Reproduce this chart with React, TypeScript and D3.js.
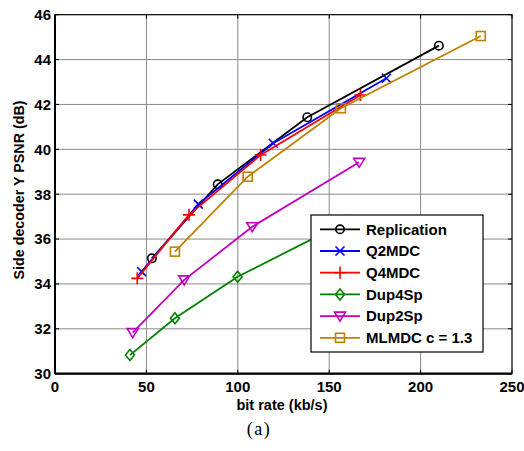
import React from "react";
import * as d3 from "d3";

const xTicks = [0, 50, 100, 150, 200, 250];
const yTicks = [30, 32, 34, 36, 38, 40, 42, 44, 46];

const replicationX = [53, 89, 138, 210];
const replicationY = [35.14, 38.44, 41.43, 44.62];
const q2mdcX = [47.4, 78.4, 119.4, 181.3];
const q2mdcY = [34.55, 37.56, 40.27, 43.17];
const q4mdcX = [45, 73.3, 112.5, 167.1];
const q4mdcY = [34.25, 37.08, 39.75, 42.42];
const dup4spX = [41, 65.6, 99.9, 160];
const dup4spY = [30.83, 32.47, 34.32, 36.8];
const dup2spX = [42.5, 70.7, 107.9, 166.4];
const dup2spY = [31.83, 34.18, 36.55, 39.42];
const mlmdcX = [65.6, 105.4, 156.4, 232.9];
const mlmdcY = [35.44, 38.78, 41.83, 45.05];

const seriesNames = ["Replication", "Q2MDC", "Q4MDC", "Dup4Sp", "Dup2Sp", "MLMDC c = 1.3"];
const seriesColors = ["#000000", "#0000ff", "#ff0000", "#008000", "#bf00bf", "#bf8000"];
const seriesMarkers = ["circle", "x", "plus", "diamond", "tridown", "square"];
const seriesX = [replicationX, q2mdcX, q4mdcX, dup4spX, dup2spX, mlmdcX];
const seriesY = [replicationY, q2mdcY, q4mdcY, dup4spY, dup2spY, mlmdcY];

const W = 524, H = 451;
const M = { left: 55, right: 512, top: 14.7, bottom: 373.7 };

function Marker({ type, x, y, color }: { type: string; x: number; y: number; color: string }) {
  const sw = 1.6;
  switch (type) {
    case "circle":
      return <circle cx={x} cy={y} r={4.2} fill="none" stroke={color} strokeWidth={sw} />;
    case "x":
      return <path d={`M${x - 4.5},${y - 4.5}L${x + 4.5},${y + 4.5}M${x - 4.5},${y + 4.5}L${x + 4.5},${y - 4.5}`} stroke={color} strokeWidth={sw} />;
    case "plus":
      return <path d={`M${x - 6},${y}L${x + 6},${y}M${x},${y - 6}L${x},${y + 6}`} stroke={color} strokeWidth={sw} />;
    case "diamond":
      return <path d={`M${x},${y - 5.5}L${x + 4.5},${y}L${x},${y + 5.5}L${x - 4.5},${y}Z`} fill="none" stroke={color} strokeWidth={sw} />;
    case "tridown":
      return <path d={`M${x - 5.5},${y - 4}L${x + 5.5},${y - 4}L${x},${y + 5}Z`} fill="none" stroke={color} strokeWidth={sw} />;
    case "square":
      return <rect x={x - 4.5} y={y - 4.5} width={9} height={9} fill="none" stroke={color} strokeWidth={sw} />;
  }
  return null;
}

export default function App() {
  const x = d3.scaleLinear().domain([0, 250]).range([M.left, M.right]);
  const y = d3.scaleLinear().domain([30, 46]).range([M.bottom, M.top]);
  const line = d3.line<[number, number]>().x((d) => x(d[0])).y((d) => y(d[1]));
  const font = "Arial, 'Liberation Sans', sans-serif";
  const legX = 311, legY = 215, legW = 172, legH = 137;
  const rowH = 21.7;

  return (
    <svg width={W} height={H} style={{ position: "absolute", left: 0, top: 0, background: "#fff" }}>
      <rect x={0} y={0} width={W} height={H} fill="#fff" />
      {/* grid */}
      {xTicks.slice(1, -1).map((t) => (
        <line key={"gx" + t} x1={x(t)} x2={x(t)} y1={M.top} y2={M.bottom} stroke="#8a8a8a" strokeWidth={1} />
      ))}
      {yTicks.slice(1, -1).map((t) => (
        <line key={"gy" + t} x1={M.left} x2={M.right} y1={y(t)} y2={y(t)} stroke="#8a8a8a" strokeWidth={1} />
      ))}
      {/* series */}
      {seriesNames.map((name, i) => {
        const pts: [number, number][] = seriesX[i].map((v, j) => [v, seriesY[i][j]]);
        return (
          <g key={name}>
            <path d={line(pts) || ""} fill="none" stroke={seriesColors[i]} strokeWidth={1.8} />
            {pts.map((p, j) => (
              <Marker key={j} type={seriesMarkers[i]} x={x(p[0])} y={y(p[1])} color={seriesColors[i]} />
            ))}
          </g>
        );
      })}
      {/* axes box */}
      <rect x={M.left} y={M.top} width={M.right - M.left} height={M.bottom - M.top} fill="none" stroke="#000" strokeWidth={1.2} />
      <line x1={M.left} x2={M.right} y1={M.bottom} y2={M.bottom} stroke="#000" strokeWidth={2.2} />
      <line x1={M.left} x2={M.left} y1={M.top} y2={M.bottom} stroke="#000" strokeWidth={2} />
      {/* ticks */}
      {xTicks.map((t) => (
        <g key={"tx" + t}>
          <line x1={x(t)} x2={x(t)} y1={M.bottom} y2={M.bottom - 4} stroke="#000" />
          <line x1={x(t)} x2={x(t)} y1={M.top} y2={M.top + 4} stroke="#000" />
          <text x={x(t)} y={392} textAnchor="middle" fontFamily={font} fontWeight="bold" fontSize={15}>{t}</text>
        </g>
      ))}
      {yTicks.map((t) => (
        <g key={"ty" + t}>
          <line x1={M.left} x2={M.left + 4} y1={y(t)} y2={y(t)} stroke="#000" />
          <line x1={M.right} x2={M.right - 4} y1={y(t)} y2={y(t)} stroke="#000" />
          <text x={51} y={y(t) + 5.3} textAnchor="end" fontFamily={font} fontWeight="bold" fontSize={15}>{t}</text>
        </g>
      ))}
      <text x={282} y={410} textAnchor="middle" fontFamily={font} fontWeight="bold" fontSize={14.5}>bit rate (kb/s)</text>
      <text transform={`translate(23.5, 190) rotate(-90)`} textAnchor="middle" fontFamily={font} fontWeight="bold" fontSize={14.3}>Side decoder Y PSNR (dB)</text>
      <text x={259} y={435} textAnchor="middle" fontFamily="'Times New Roman', 'Liberation Serif', serif" fontSize={18} letterSpacing={1.5}>(a)</text>
      {/* legend */}
      <rect x={legX} y={legY} width={legW} height={legH} fill="#fff" stroke="#000" strokeWidth={1.2} />
      {seriesNames.map((name, i) => {
        const cy = legY + 14.3 + i * rowH;
        return (
          <g key={"leg" + name}>
            <line x1={320} x2={360} y1={cy} y2={cy} stroke={seriesColors[i]} strokeWidth={1.8} />
            <Marker type={seriesMarkers[i]} x={340} y={cy} color={seriesColors[i]} />
            <text x={366} y={cy + 5.3} fontFamily={font} fontWeight="bold" fontSize={15}>{name}</text>
          </g>
        );
      })}
    </svg>
  );
}
